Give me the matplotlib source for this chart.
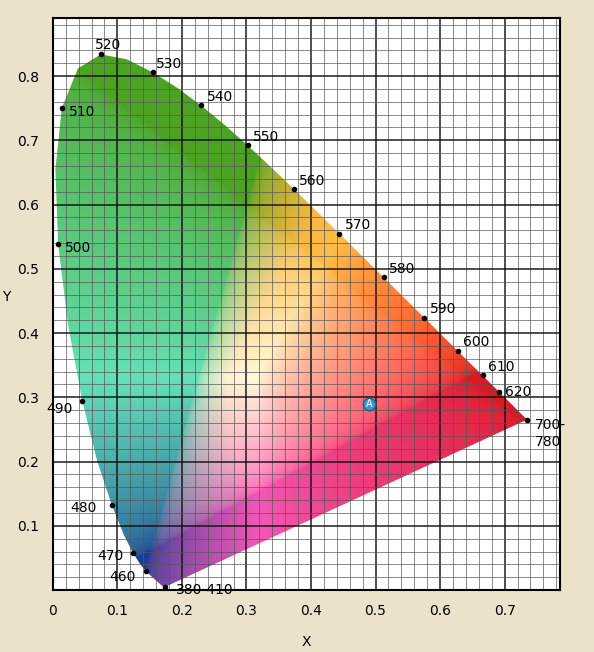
import numpy as np
import matplotlib
matplotlib.use("Agg")
import matplotlib.pyplot as plt
from matplotlib.patches import Polygon

wl = [380,390,400,410,420,430,440,450,460,465,470,475,480,485,490,495,500,505,510,515,520,525,530,535,540,545,550,555,560,565,570,575,580,585,590,595,600,605,610,620,630,640,650,660,680,700]
lx = [0.1741,0.1738,0.1733,0.1726,0.1714,0.1689,0.1644,0.1566,0.1440,0.1355,0.1241,0.1096,0.0913,0.0687,0.0454,0.0235,0.0082,0.0039,0.0139,0.0389,0.0743,0.1142,0.1547,0.1929,0.2296,0.2658,0.3016,0.3373,0.3731,0.4087,0.4441,0.4788,0.5125,0.5448,0.5752,0.6029,0.6270,0.6482,0.6658,0.6915,0.7079,0.7190,0.7260,0.7300,0.7334,0.7347]
ly = [0.0050,0.0049,0.0048,0.0048,0.0051,0.0069,0.0109,0.0177,0.0297,0.0399,0.0578,0.0868,0.1327,0.2007,0.2950,0.4127,0.5384,0.6548,0.7502,0.8120,0.8338,0.8262,0.8059,0.7816,0.7543,0.7243,0.6923,0.6589,0.6245,0.5896,0.5547,0.5202,0.4866,0.4544,0.4242,0.3965,0.3725,0.3514,0.3340,0.3083,0.2920,0.2809,0.2740,0.2700,0.2666,0.2653]

labels = ["380-410","460","470","480","490","500","510","520","530","540","550","560","570","580","590","600","610","620","700-\n780"]
label_wl = [380,460,470,480,490,500,510,520,530,540,550,560,570,580,590,600,610,620,700]
point_A = (0.49, 0.29)

fig = plt.figure(figsize=(5.94,6.52), dpi=100, facecolor="#ece2cb")
ax = fig.add_axes([0.089,0.095,0.854,0.877])
ax.set_xlim(0,0.786); ax.set_ylim(0,0.89)

# colour image
n=500
xs=np.linspace(0,0.786,n); ys=np.linspace(0,0.89,n)
X,Y=np.meshgrid(xs,ys)
Yc=np.ones_like(X); Ys=np.where(Y<1e-4,1e-4,Y)
Xc=X/Ys; Zc=(1-X-Y)/Ys
M=np.array([[3.2406,-1.5372,-0.4986],[-0.9689,1.8758,0.0415],[0.0557,-0.2040,1.0570]])
rgb=np.einsum('ij,jkl->kli',M,np.array([Xc,Yc,Zc]))
rgb=np.clip(rgb,0,None)
rgb=rgb/np.maximum(rgb.max(axis=2,keepdims=True),1e-6)
rgb=np.clip(rgb,0,1)**(1/2.2)
# printed-ink style primaries (columns: R, G, B)
C=np.array([[0.86,0.30,0.10],
            [0.10,0.64,0.24],
            [0.14,0.14,0.58]])
rgb=np.clip(np.einsum('ij,klj->kli',C,rgb),0,1)
ax.set_facecolor("white")
im=ax.imshow(rgb,origin="lower",extent=[0,0.786,0,0.89],aspect="auto",zorder=1)
poly=Polygon(np.column_stack([lx,ly]),closed=True,transform=ax.transData,facecolor="none",edgecolor="none")
ax.add_patch(poly)
im.set_clip_path(poly)

# grid
for v in np.arange(0,0.8,0.02):
    major=abs(v*10-round(v*10))<1e-6
    ax.axvline(v,color="#111" if major else "#555",lw=1.3 if major else 0.6,zorder=2,alpha=0.8)
for v in np.arange(0,0.9,0.02):
    major=abs(v*10-round(v*10))<1e-6
    ax.axhline(v,color="#111" if major else "#555",lw=1.3 if major else 0.6,zorder=2,alpha=0.8)

offsets={380:(8,-2),460:(-26,-4),470:(-26,-2),480:(-30,-2),490:(-26,-6),500:(5,-3),510:(5,-3),520:(-4,7),530:(2,6),540:(4,6),550:(4,6),560:(4,6),570:(4,6),580:(4,6),590:(4,6),600:(4,6),610:(4,6),620:(4,0),700:(6,-10)}
for lab,w in zip(labels,label_wl):
    i=wl.index(w); px,py=lx[i],ly[i]
    ax.plot(px,py,'o',color="black",ms=3,zorder=4)
    ax.annotate(lab,(px,py),xytext=offsets[w],textcoords="offset points",fontsize=10,zorder=5,va="center")
ax.plot(*point_A,'o',ms=9,color="#3a9ad6",mec="#1d5f8a",zorder=5)
ax.text(*point_A,"A",ha="center",va="center",fontsize=7,color="white",zorder=6)

ax.set_xticks(np.arange(0,0.71,0.1)); ax.set_yticks(np.arange(0.1,0.81,0.1))
ax.set_xticklabels(["0","0.1","0.2","0.3","0.4","0.5","0.6","0.7"])
ax.set_yticklabels([f"{v:.1f}" for v in np.arange(0.1,0.81,0.1)])
ax.tick_params(length=0,labelsize=10,pad=10)
ax.set_xlabel("X",fontsize=10,labelpad=12); ax.set_ylabel("Y",fontsize=10,rotation=0,labelpad=8)
for s in ax.spines.values(): s.set_linewidth(1.5)
fig.savefig("out.png",dpi=100,facecolor=fig.get_facecolor())
